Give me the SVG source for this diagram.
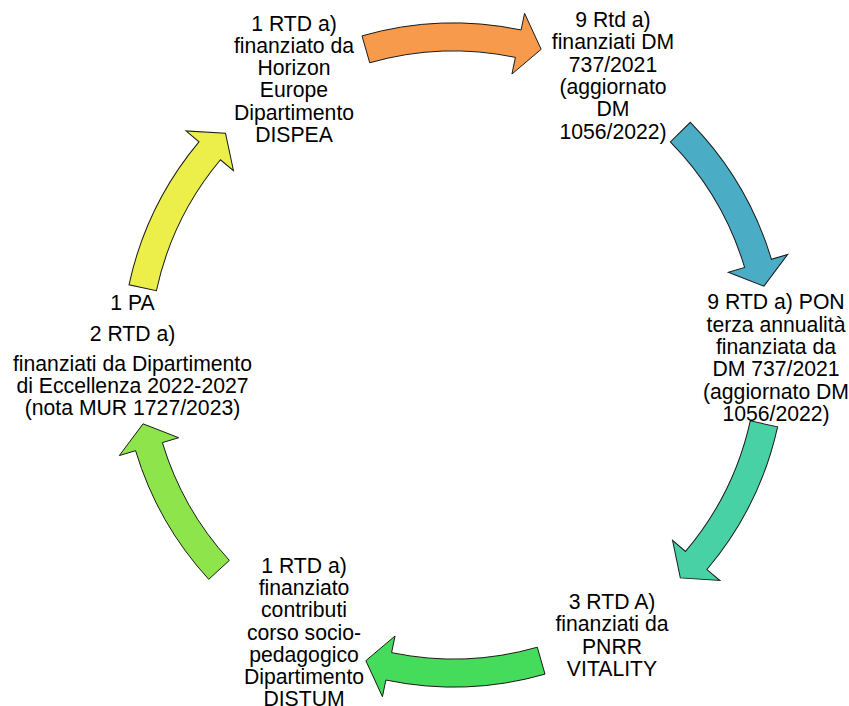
<svg xmlns="http://www.w3.org/2000/svg" xmlns:xlink="http://www.w3.org/1999/xlink" width="849" height="706" viewBox="0 0 849 706">
<style>
text{font-family:"Liberation Sans",Arial,sans-serif;font-size:21.2px;fill:#000;text-anchor:middle}
.arr{stroke:#1a1a1a;stroke-width:1;stroke-linejoin:miter}
</style>
<defs>
<path id="arrow" d="M361.99,35.86 A332,332 0 0 1 521.11,29.96 L524.57,13.31 L541.15,49.32 L511.94,74.01 L515.41,57.37 A304,304 0 0 0 369.71,62.78 Z"/>
</defs>
<rect width="849" height="706" fill="#fff"/>
<g id="connectors">
<use class="arr" xlink:href="#arrow" href="#arrow" fill="#F79A4B"/>
<use class="arr" xlink:href="#arrow" href="#arrow" fill="#4BACC6" transform="rotate(61.5 453.5 355)"/>
<use class="arr" xlink:href="#arrow" href="#arrow" fill="#48D1A5" transform="rotate(118.5 453.5 355)"/>
<use class="arr" xlink:href="#arrow" href="#arrow" fill="#45DB5B" transform="rotate(180 453.5 355)"/>
<path class="arr" fill="#8EE54B" d="M208.72,579.3 A332,332 0 0 1 135.59,450.68 L119.31,455.58 L143.04,423.83 L178.68,437.71 L162.4,442.61 A304,304 0 0 0 229.37,560.38 Z"/>
<use class="arr" xlink:href="#arrow" href="#arrow" fill="#ECEF49" transform="rotate(298.2 453.5 355)"/>
</g>
<g id="node-horizon">
<text x="294" y="30.5">1 RTD a)</text>
<text x="294" y="52.8">finanziato da</text>
<text x="294" y="75.1">Horizon</text>
<text x="294" y="97.4">Europe</text>
<text x="294" y="119.7">Dipartimento</text>
<text x="294" y="142">DISPEA</text>
</g>
<g id="node-dm737">
<text x="613" y="27">9 Rtd a)</text>
<text x="613" y="49.3">finanziati DM</text>
<text x="613" y="71.6">737/2021</text>
<text x="613" y="93.9">(aggiornato</text>
<text x="613" y="116.2">DM</text>
<text x="613" y="138.5">1056/2022)</text>
</g>
<g id="node-pon">
<text x="776" y="309.3">9 RTD a) PON</text>
<text x="776" y="331.6">terza annualità</text>
<text x="776" y="353.9">finanziata da</text>
<text x="776" y="376.2">DM 737/2021</text>
<text x="776" y="398.5">(aggiornato DM</text>
<text x="776" y="420.8">1056/2022)</text>
</g>
<g id="node-pnrr">
<text x="612" y="609">3 RTD A)</text>
<text x="612" y="631.3">finanziati da</text>
<text x="612" y="653.6">PNRR</text>
<text x="612" y="675.9">VITALITY</text>
</g>
<g id="node-distum">
<text x="304" y="573">1 RTD a)</text>
<text x="304" y="595.2">finanziato</text>
<text x="304" y="617.4">contributi</text>
<text x="304" y="639.6">corso socio-</text>
<text x="304" y="661.8">pedagogico</text>
<text x="304" y="684">Dipartimento</text>
<text x="304" y="706">DISTUM</text>
</g>
<g id="node-eccellenza">
<text x="132.5" y="310">1 PA</text>
<text x="132.5" y="341">2 RTD a)</text>
<text x="132.5" y="370.5">finanziati da Dipartimento</text>
<text x="132.5" y="392.8">di Eccellenza 2022-2027</text>
<text x="132.5" y="415.1">(nota MUR 1727/2023)</text>
</g>
</svg>
